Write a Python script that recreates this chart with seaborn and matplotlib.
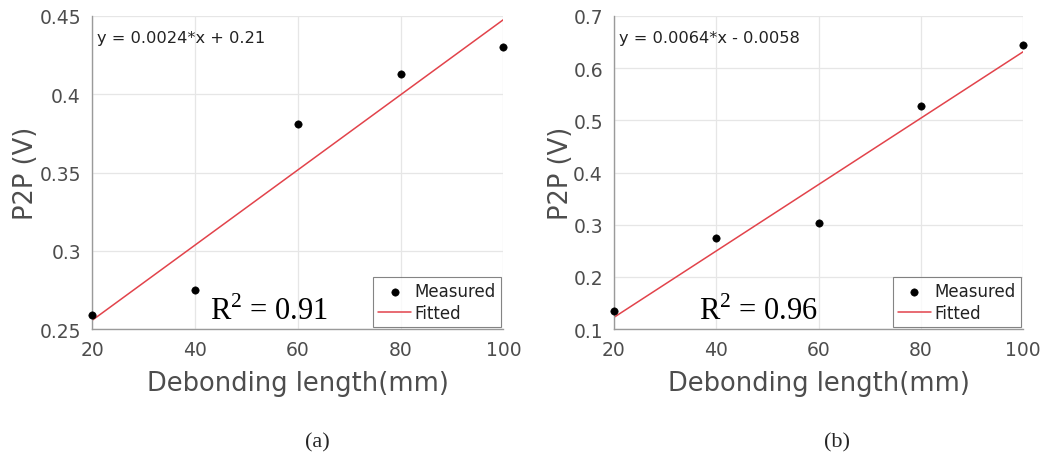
import numpy as np
import pandas as pd
import matplotlib.pyplot as plt
import seaborn as sns

# Data
debond_mm = [20, 40, 60, 80, 100]
p2p_a = [0.259, 0.275, 0.381, 0.413, 0.430]
p2p_b = [0.135, 0.275, 0.303, 0.527, 0.645]
eq_a = 'y = 0.0024*x + 0.21'
eq_b = 'y = 0.0064*x - 0.0058'
r2_a = 0.91
r2_b = 0.96
ylim_a = (0.25, 0.45)
ylim_b = (0.1, 0.7)
yticks_a = [0.25, 0.3, 0.35, 0.4, 0.45]
yticks_b = [0.1, 0.2, 0.3, 0.4, 0.5, 0.6, 0.7]

sns.set_style('white')
plt.rcParams['font.family'] = ['DejaVu Sans']
plt.rcParams['mathtext.fontset'] = 'custom'
plt.rcParams['mathtext.rm'] = 'Liberation Serif'

fig = plt.figure(figsize=(10.63, 4.56), dpi=100)
ax_a = fig.add_axes([0.0866, 0.276, 0.387, 0.687])
ax_b = fig.add_axes([0.5776, 0.276, 0.385, 0.687])

grey = '#4d4d4d'


def draw_panel(ax, y, eq, r2, ylim, yticks, r2_xy, ylab_x, caption, cap_x):
    df = pd.DataFrame({'x': debond_mm, 'y': y})
    # fitted line (least squares, as in the reference)
    slope, intercept = np.polyfit(df['x'], df['y'], 1)
    df['fit'] = slope * df['x'] + intercept
    sns.lineplot(data=df, x='x', y='fit', ax=ax, color='#e2434b', lw=1.1,
                 label='Fitted', zorder=2)
    sns.scatterplot(data=df, x='x', y='y', ax=ax, color='black', s=28,
                    edgecolor='black', label='Measured', zorder=3, clip_on=False)

    ax.set_xlim(20, 100)
    ax.set_ylim(*ylim)
    ax.set_xticks([20, 40, 60, 80, 100])
    ax.set_yticks(yticks)
    ax.set_yticklabels([f'{t:g}' for t in yticks])
    ax.grid(True, color='#e6e6e6', lw=0.9)
    ax.set_axisbelow(True)
    for s in ['top', 'right']:
        ax.spines[s].set_visible(False)
    for s in ['left', 'bottom']:
        ax.spines[s].set_color('#9a9a9a')
        ax.spines[s].set_linewidth(1.0)
    ax.tick_params(axis='both', labelsize=13.5, colors=grey, length=0, pad=8)
    ax.set_xlabel('Debonding length(mm)', fontsize=18.5, color=grey)
    ax.set_ylabel('P2P (V)', fontsize=18.5, color=grey)
    ax.xaxis.set_label_coords(0.5, -0.13)
    ax.yaxis.set_label_coords(ylab_x, 0.5)
    ax.yaxis.label.set_verticalalignment('center')

    ax.text(0.012, 0.955, eq, transform=ax.transAxes, fontsize=11.7,
            color='#222222', va='top', ha='left')
    ax.text(r2_xy[0], r2_xy[1], f'R$^2$ = {r2:.2f}', fontsize=22,
            family='Liberation Serif', color='black', va='baseline', ha='left')

    handles, labels = ax.get_legend_handles_labels()
    order = [labels.index('Measured'), labels.index('Fitted')]
    leg = ax.legend([handles[i] for i in order], [labels[i] for i in order],
                    loc='lower right', fontsize=12, frameon=True, fancybox=False,
                    borderaxespad=0.15, handlelength=2.0, handletextpad=0.2,
                    borderpad=0.3, labelspacing=0.2)
    leg.get_frame().set_edgecolor('#666666')
    leg.get_frame().set_linewidth(0.8)
    for t in leg.get_texts():
        t.set_color('#222222')

    fig.text(cap_x, 0.028, caption, fontsize=16, family='Liberation Serif',
             ha='center', va='center')


draw_panel(ax_a, p2p_a, eq_a, r2_a, ylim_a, yticks_a, (43, 0.2565), -0.16, '(a)', 0.299)
draw_panel(ax_b, p2p_b, eq_b, r2_b, ylim_b, yticks_b, (36.6, 0.119), -0.13, '(b)', 0.787)

fig.savefig('out.png', dpi=100)
